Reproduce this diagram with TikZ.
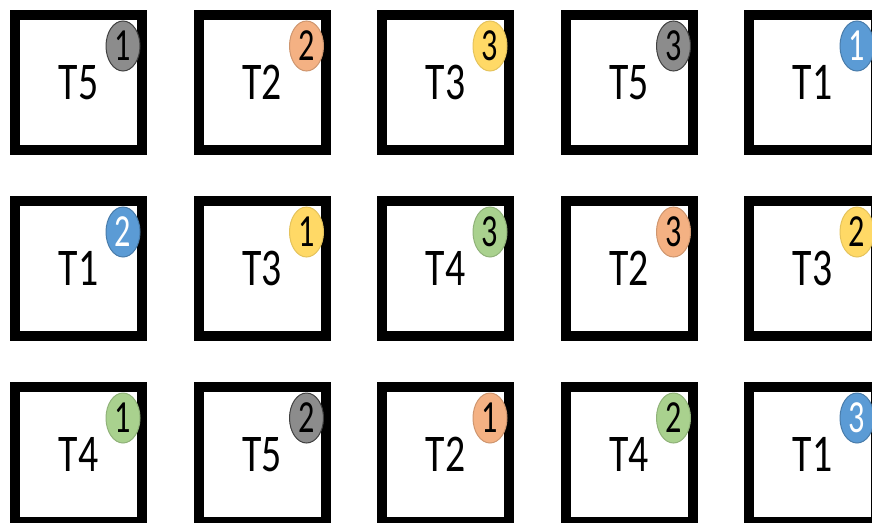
\documentclass[tikz,border=0pt]{standalone}
\usepackage{fontspec}
\setmainfont{Carlito}
\usetikzlibrary{shapes.geometric}
\definecolor{blueTask}  {HTML}{5B9BD5}
\definecolor{orangeTask}{HTML}{F4B183}
\definecolor{yellowTask}{HTML}{FFD966}
\definecolor{greenTask} {HTML}{A9D18E}
\definecolor{grayTask}  {HTML}{8C8C8C}
\tikzset{
  tile/.style={draw=black,fill=white,line width=10pt,minimum width=127pt,
               minimum height=135pt,inner sep=0pt,font=\fontsize{53}{53}\selectfont},
  badge/.style={ellipse,line width=1pt,minimum width=34pt,minimum height=50pt,
                inner sep=0pt,font=\fontsize{46}{46}\selectfont},
  task1/.style={fill=blueTask,draw=blueTask!80!black,text=white},
  task2/.style={fill=orangeTask,draw=orangeTask!85!black},
  task3/.style={fill=yellowTask,draw=yellowTask!90!black},
  task4/.style={fill=greenTask,draw=greenTask!85!black},
  task5/.style={fill=grayTask,draw=black!75},
}
\begin{document}
\begin{tikzpicture}[x=1pt,y=-1pt]
  \useasboundingbox (0,0) rectangle (872,522);
  \clip (0,0) rectangle (872,522);
  % task / order / row / column
  \foreach \task/\order/\row/\col in {5/1/1/1, 2/2/1/2, 3/3/1/3, 5/3/1/4, 1/1/1/5,
                                      1/2/2/1, 3/1/2/2, 4/3/2/3, 2/3/2/4, 3/2/2/5,
                                      4/1/3/1, 5/2/3/2, 2/1/3/3, 4/2/3/4, 1/3/3/5}{
    \node[tile] (tile-\row-\col) at ({78.5+183.5*(\col-1)},{82.5+186*(\row-1)})
      {\scalebox{0.75}[1]{T\task}};
    \node[badge,task\task] (badge-\row-\col)
      at ([xshift=44.5pt,yshift=36.5pt]tile-\row-\col.center)
      {\scalebox{0.7}[1]{\order}};
  }
\end{tikzpicture}
\end{document}
